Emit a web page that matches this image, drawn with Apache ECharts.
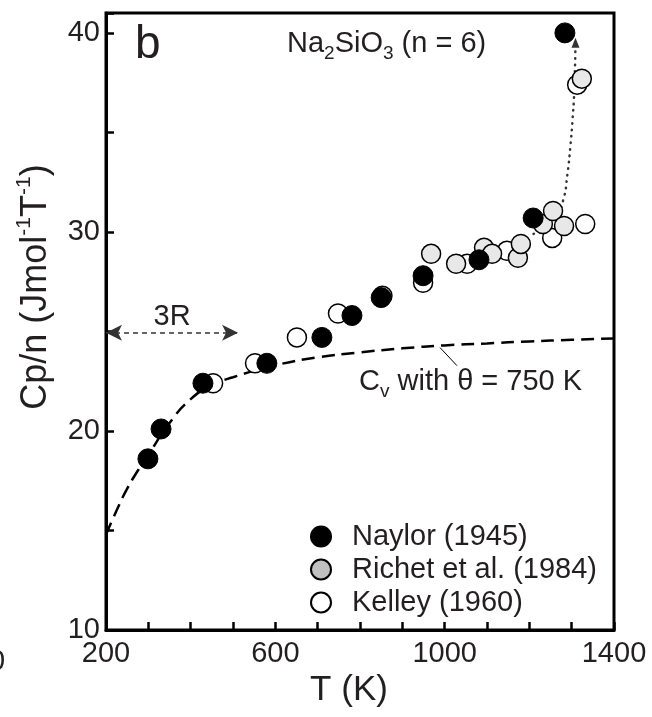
<!DOCTYPE html>
<html>
<head>
<meta charset="utf-8">
<script src="https://cdn.jsdelivr.net/npm/echarts@6/dist/echarts.min.js"></script>
<style>
  html, body { margin: 0; padding: 0; background: #fff; }
  #chart { width: 652px; height: 717px; }
</style>
</head>
<body>
<div id="chart"></div>
<script>
// ===== data =====
const naylorT  = [299, 330, 429, 580, 710, 781, 850, 949, 1081, 1209, 1284];
const naylorCp = [18.6, 20.1, 22.4, 23.4, 24.7, 25.8, 26.7, 27.8, 28.6, 30.7, 40.0];

const richetT  = [853, 968, 1027, 1093, 1112, 1173, 1180, 1232, 1256, 1282, 1324];
const richetCp = [26.8, 28.9, 28.4, 29.2, 28.9, 28.7, 29.4, 30.4, 31.05, 30.3, 37.7];

const kelleyT  = [453, 552, 651, 748, 949, 1053, 1147, 1254, 1313, 1332];
const kelleyCp = [22.4, 23.4, 24.7, 25.9, 27.45, 28.4, 29.05, 29.7, 37.4, 30.4];

// Cv curve (theta = 750 K)
const cvT  = [200, 225, 250, 275, 300, 350, 400, 450, 500, 600, 700, 800, 900, 1000, 1100, 1200, 1300, 1400];
const cvCp = [14.8, 16.0, 17.1, 18.0, 18.8, 20.4, 21.6, 22.3, 22.7, 23.3, 23.7, 23.95, 24.15, 24.3, 24.4, 24.5, 24.58, 24.65];

// dotted path up to the melting point
const dotT  = [1210, 1262, 1280, 1290, 1297, 1302, 1306, 1308, 1309];
const dotCp = [29.9, 30.8, 31.6, 32.9, 34.3, 35.6, 37.0, 38.4, 39.5];

const R3 = 24.94;           // 3R
const xTicks = [200, 600, 1000, 1400];
const yTicks = [10, 20, 30, 40];

const zip = (a, b) => a.map((v, i) => [v, b[i]]);
const FONT = '"Liberation Sans", Arial, sans-serif';
const INK = '#231f20';

const chart = echarts.init(document.getElementById('chart'));
chart.setOption({
  animation: false,
  grid: { left: 106, right: 38, top: 13, bottom: 87, show: true, borderColor: '#000', borderWidth: 3 },
  xAxis: {
    type: 'value', min: 200, max: 1400, interval: 100,
    axisLine: { lineStyle: { color: '#000', width: 3 } },
    axisTick: { inside: true, length: 8, lineStyle: { color: '#000', width: 2.5 } },
    splitLine: { show: false },
    axisLabel: {
      margin: 9, fontSize: 29, color: INK, fontFamily: FONT,
      formatter: v => xTicks.includes(v) ? String(v) : ''
    }
  },
  yAxis: {
    type: 'value', min: 10, max: 41, interval: 5,
    axisLine: { lineStyle: { color: '#000', width: 3 } },
    axisTick: { inside: true, length: 8, lineStyle: { color: '#000', width: 2.5 } },
    splitLine: { show: false },
    axisLabel: {
      margin: 6, fontSize: 29, color: INK, fontFamily: FONT,
      formatter: v => yTicks.includes(v) ? String(v) : ''
    }
  },
  legend: {
    orient: 'vertical', left: 305, top: 515,
    itemWidth: 52, itemHeight: 20, itemGap: 0,
    textStyle: { fontSize: 29, color: INK, fontFamily: FONT, lineHeight: 33 },
    data: [
      { name: 'Naylor (1945)' },
      { name: 'Richet et al. (1984)', itemStyle: { color: '#c0c0c0' } },
      { name: 'Kelley (1960)' }
    ]
  },
  series: [
    {
      name: 'cv', type: 'line', data: zip(cvT, cvCp), smooth: true, symbol: 'none',
      lineStyle: { color: '#000', width: 2.5, type: [13, 7] }, z: 1, silent: true,
      markLine: {
        silent: true, symbol: 'none', label: { show: false },
        lineStyle: { color: '#000', width: 1, type: 'solid' },
        data: [[{ coord: [989, 24.19] }, { coord: [1029, 23.28] }]]
      }
    },
    {
      name: 'melt', type: 'line', data: zip(dotT, dotCp), smooth: true,
      showSymbol: true,
      symbol: (v, p) => p.dataIndex === dotT.length - 1 ? 'triangle' : 'none',
      symbolSize: [8, 10],
      itemStyle: { color: '#333' },
      lineStyle: { color: '#333', width: 2.5, type: [0.5, 6], cap: 'round' },
      z: 1, silent: true,
      markLine: {
        silent: true,
        lineStyle: { color: '#333', width: 1.5, type: [5, 4] },
        symbolSize: [12, 16],
        label: {
          show: true, position: 'middle', formatter: '3R', distance: 1,
          fontSize: 29, color: INK, fontFamily: FONT
        },
        data: [[{ coord: [200, R3], symbol: 'arrow' }, { coord: [512, R3], symbol: 'arrow' }]]
      }
    },
    {
      name: 'Kelley (1960)', type: 'scatter', data: zip(kelleyT, kelleyCp), symbolSize: 19,
      itemStyle: { color: '#fff', borderColor: '#000', borderWidth: 1.5, opacity: 1 }, z: 2
    },
    {
      name: 'Richet et al. (1984)', type: 'scatter', data: zip(richetT, richetCp), symbolSize: 19,
      itemStyle: { color: '#e8e8e8', borderColor: '#000', borderWidth: 1.5, opacity: 1 }, z: 3
    },
    {
      name: 'Naylor (1945)', type: 'scatter', data: zip(naylorT, naylorCp), symbolSize: 20,
      itemStyle: { color: '#000', borderColor: '#000', borderWidth: 1, opacity: 1 }, z: 4
    }
  ],
  graphic: [
    { type: 'text', left: 135, top: 22, style: { text: 'b', font: '46px ' + FONT, fill: INK } },
    {
      type: 'text', x: 287, y: 44,
      style: {
        text: '{a|Na}{s|2}{a|SiO}{s|3}{a| (n = 6)}', fill: INK, verticalAlign: 'middle',
        rich: {
          a: { fontSize: 29, fontFamily: FONT, lineHeight: 38, verticalAlign: 'middle', fill: INK },
          s: { fontSize: 19, fontFamily: FONT, lineHeight: 16, verticalAlign: 'bottom', fill: INK }
        }
      }
    },
    {
      type: 'text', x: 359, y: 382,
      style: {
        text: '{a|C}{s|v}{a| with θ = 750 K}', fill: INK, verticalAlign: 'middle',
        rich: {
          a: { fontSize: 29, fontFamily: FONT, lineHeight: 38, verticalAlign: 'middle', fill: INK },
          s: { fontSize: 19, fontFamily: FONT, lineHeight: 16, verticalAlign: 'bottom', fill: INK }
        }
      }
    },
    {
      type: 'text', x: 36, y: 287, rotation: Math.PI / 2,
      style: {
        text: '{a|Cp/n (Jmol}{p|-1}{a|T}{p|-1}{a|)}', fill: INK, align: 'center', verticalAlign: 'middle',
        rich: {
          a: { fontSize: 36, fontFamily: FONT, lineHeight: 44, verticalAlign: 'middle', fill: INK },
          p: { fontSize: 21, fontFamily: FONT, lineHeight: 20, verticalAlign: 'top', fill: INK }
        }
      }
    },
    {
      type: 'text', x: 349, y: 690,
      style: { text: 'T (K)', font: '35px ' + FONT, fill: INK, align: 'center', verticalAlign: 'middle' }
    },
    {
      type: 'text', x: -11, y: 662,
      style: { text: '0', font: '29px ' + FONT, fill: INK, verticalAlign: 'middle' }
    }
  ]
});
window.addEventListener('resize', () => chart.resize());
</script>
</body>
</html>
